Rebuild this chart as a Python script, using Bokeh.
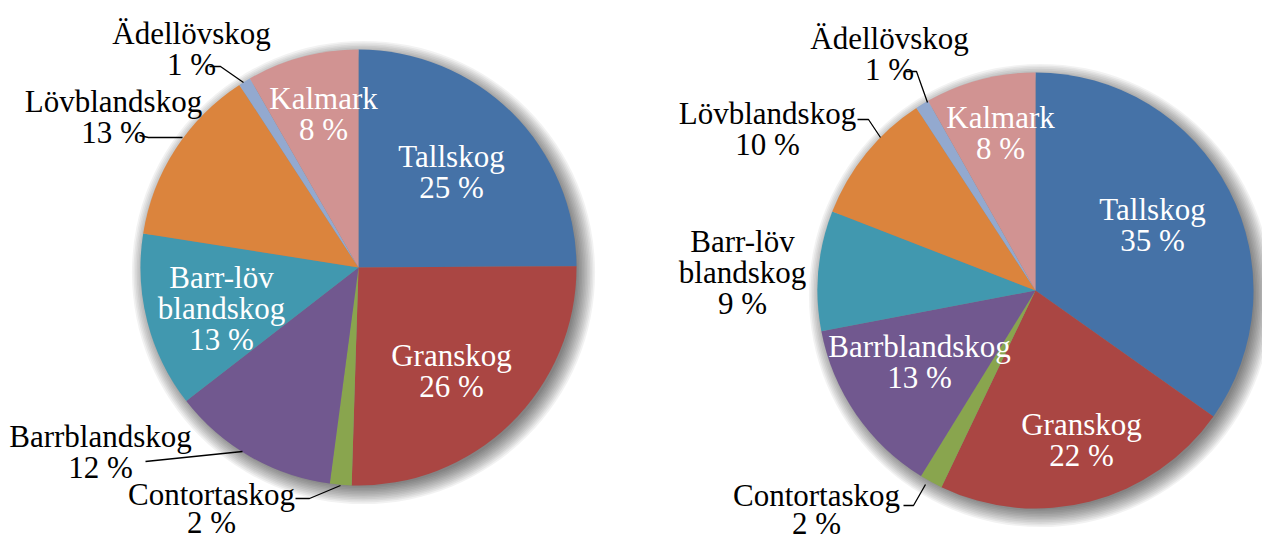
import numpy as np
from bokeh.plotting import figure
from bokeh.models import Range1d, ColumnDataSource
from bokeh.core.properties import value
from bokeh.embed import file_html
from bokeh.resources import INLINE

# ---------------- data ----------------
categories = ["Tallskog", "Granskog", "Contortaskog", "Barrblandskog",
              "Barr-löv blandskog", "Lövblandskog", "Ädellövskog", "Kalmark"]
colors = ["#4572A7", "#AA4643", "#89A54E", "#71588F",
          "#4198AF", "#DB843D", "#93A9CF", "#D19392"]
left_values = [24.9, 25.6, 1.6, 12.4, 13.0, 13.3, 0.9, 8.3]
right_values = [34.8, 22.3, 1.7, 13.2, 8.9, 9.9, 1.0, 8.2]

# ---------------- layout (screen px) ----------------
W, H = 1262, 541
R = 218
LINE_STEP = 31
pies = [
    dict(values=left_values, cx=358, cy=267,
         labels={
             "Tallskog": (451, 156, "white", None, LINE_STEP),
             "Granskog": (451, 355, "white", None, LINE_STEP),
             "Contortaskog": (211, 494, "black", [(295, 498), (309, 498), (340, 485)], 28),
             "Barrblandskog": (100, 436, "black", [(145, 461), (242, 451)], LINE_STEP),
             "Barr-löv blandskog": (221, 277, "white", None, LINE_STEP),
             "Lövblandskog": (113, 101, "black", [(139, 135), (148, 137), (182, 137)], LINE_STEP),
             "Ädellövskog": (191, 33, "black", [(209, 66), (220, 66), (243, 82)], LINE_STEP),
             "Kalmark": (323, 98, "white", None, LINE_STEP),
         }),
    dict(values=right_values, cx=1035, cy=290,
         labels={
             "Tallskog": (1152, 209, "white", None, LINE_STEP),
             "Granskog": (1081, 424, "white", None, LINE_STEP),
             "Contortaskog": (816, 495, "black", [(903, 505), (913, 505), (925, 484)], 28),
             "Barrblandskog": (919, 346, "white", None, LINE_STEP),
             "Barr-löv blandskog": (742, 241, "black", None, LINE_STEP),
             "Lövblandskog": (767, 113, "black", [(857, 119), (868, 119), (880, 137)], LINE_STEP),
             "Ädellövskog": (889, 38, "black", [(905, 71), (916, 71), (927, 102)], LINE_STEP),
             "Kalmark": (1000, 117, "white", None, LINE_STEP),
         }),
]
FONT = value("'Liberation Serif', 'Times New Roman', serif")
FONT_SIZE = "31px"


def Y(ys):
    return H - ys


p = figure(width=W, height=H, output_backend="svg", toolbar_location=None,
           x_range=Range1d(0, W), y_range=Range1d(0, H),
           x_axis_type=None, y_axis_type=None, min_border=0)
p.grid.visible = False
p.outline_line_color = None
p.background_fill_color = "white"
p.border_fill_color = "white"

for pie in pies:
    vals = np.array(pie["values"], dtype=float)
    frac = vals / vals.sum()
    cum = np.concatenate([[0], np.cumsum(frac)])
    start = np.pi / 2 - 2 * np.pi * cum[:-1]
    end = np.pi / 2 - 2 * np.pi * cum[1:]
    cx, cy = pie["cx"], Y(pie["cy"])

    # soft drop shadow
    for k in range(12):
        p.circle(x=[cx + 5], y=[cy - 5], radius=R - 4 + k * 1.6,
                 fill_color="black", fill_alpha=0.05, line_color=None)

    src = ColumnDataSource(dict(start=start, end=end, color=colors, cat=categories))
    p.wedge(x=cx, y=cy, radius=R, start_angle="start", end_angle="end",
            direction="clock", fill_color="color", line_color=None, source=src)

    # labels
    for cat, v in zip(categories, vals):
        lx, ly, col, leader, step = pie["labels"][cat]
        lines = cat.split(" ") + [f"{int(round(v))} %"]
        ys = [Y(ly + i * step) for i in range(len(lines))]
        p.text(x=[lx] * len(lines), y=ys, text=lines, text_font=FONT,
               text_font_size=FONT_SIZE, text_color=col,
               text_align="center", text_baseline="middle")
        if leader:
            p.line(x=[q[0] for q in leader], y=[Y(q[1]) for q in leader],
                   line_color="black", line_width=1.3)

open("out.html", "w").write(file_html(p, INLINE))
